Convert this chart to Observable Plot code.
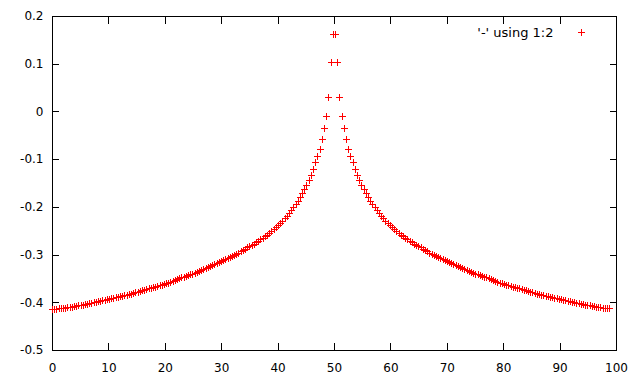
<!DOCTYPE html>
<html>
<head>
<meta charset="utf-8">
<script src="https://cdn.jsdelivr.net/npm/d3@7"></script>
<script src="https://cdn.jsdelivr.net/npm/@observablehq/plot@0.6"></script>
<style>
  html, body { margin: 0; padding: 0; background: #fff; }
  #chart svg { shape-rendering: crispEdges; }
</style>
</head>
<body>
<div id="chart"></div>
<script>
// Sample positions: regular grid starting at 0
const xStart = 0;
const xStep = 0.389;

// Series values (left to right)
const yValues = [
  -0.415,-0.414,-0.414,-0.413,-0.412,-0.412,-0.411,-0.410,-0.410,-0.409,
  -0.408,-0.407,-0.406,-0.405,-0.405,-0.404,-0.403,-0.402,-0.401,-0.400,
  -0.399,-0.398,-0.397,-0.396,-0.395,-0.394,-0.393,-0.392,-0.390,-0.389,
  -0.388,-0.387,-0.386,-0.385,-0.384,-0.383,-0.382,-0.380,-0.379,-0.378,
  -0.377,-0.375,-0.374,-0.373,-0.371,-0.370,-0.369,-0.367,-0.366,-0.364,
  -0.363,-0.362,-0.360,-0.359,-0.357,-0.355,-0.354,-0.352,-0.350,-0.348,
  -0.347,-0.345,-0.343,-0.341,-0.340,-0.338,-0.336,-0.334,-0.332,-0.330,
  -0.328,-0.326,-0.324,-0.322,-0.320,-0.318,-0.316,-0.314,-0.312,-0.310,
  -0.307,-0.305,-0.303,-0.300,-0.298,-0.296,-0.293,-0.291,-0.288,-0.285,
  -0.283,-0.280,-0.277,-0.274,-0.271,-0.268,-0.265,-0.261,-0.258,-0.254,
  -0.250,-0.247,-0.242,-0.238,-0.234,-0.229,-0.224,-0.219,-0.213,-0.207,
  -0.201,-0.195,-0.188,-0.180,-0.172,-0.163,-0.154,-0.143,-0.133,-0.121,
  -0.107,-0.093,-0.078,-0.058,-0.034,-0.009,0.031,0.104,0.162,
  0.162,0.104,0.031,-0.009,-0.034,-0.058,-0.078,-0.093,-0.107,-0.121,
  -0.133,-0.143,-0.154,-0.163,-0.172,-0.180,-0.188,-0.195,-0.201,-0.207,
  -0.213,-0.219,-0.224,-0.229,-0.234,-0.238,-0.242,-0.247,-0.250,-0.254,
  -0.258,-0.261,-0.265,-0.268,-0.271,-0.274,-0.277,-0.280,-0.283,-0.285,
  -0.288,-0.291,-0.293,-0.296,-0.298,-0.300,-0.303,-0.305,-0.307,-0.310,
  -0.312,-0.314,-0.316,-0.318,-0.320,-0.322,-0.324,-0.326,-0.328,-0.330,
  -0.332,-0.334,-0.336,-0.338,-0.340,-0.341,-0.343,-0.345,-0.347,-0.348,
  -0.350,-0.352,-0.354,-0.355,-0.357,-0.359,-0.360,-0.362,-0.363,-0.364,
  -0.366,-0.367,-0.369,-0.370,-0.371,-0.373,-0.374,-0.375,-0.377,-0.378,
  -0.379,-0.380,-0.382,-0.383,-0.384,-0.385,-0.386,-0.387,-0.388,-0.389,
  -0.390,-0.392,-0.393,-0.394,-0.395,-0.396,-0.397,-0.398,-0.399,-0.400,
  -0.401,-0.402,-0.403,-0.404,-0.405,-0.405,-0.406,-0.407,-0.408,-0.409,
  -0.410,-0.410,-0.411,-0.412,-0.412,-0.413
];

const xTicks = [0, 10, 20, 30, 40, 50, 60, 70, 80, 90, 100];
const yTicks = [-0.5, -0.4, -0.3, -0.2, -0.1, 0, 0.1, 0.2];
const legendLabels = ["'-' using 1:2"];

const points = yValues.map((y, i) => ({x: xStart + i * xStep, y}));

const plusSymbol = {
  draw(ctx, size) {
    const r = Math.sqrt(size / Math.PI);
    ctx.moveTo(-r, 0); ctx.lineTo(r, 0);
    ctx.moveTo(0, -r); ctx.lineTo(0, r);
  }
};

const fmt = d => String(+d.toFixed(1));

const chart = Plot.plot({
  width: 640,
  height: 384,
  marginLeft: 52,
  marginRight: 24,
  marginTop: 16,
  marginBottom: 34,
  style: {fontFamily: "DejaVu Sans", fontSize: "12px", background: "#fff", color: "#000"},
  x: {domain: [0, 100], label: null},
  y: {domain: [-0.5, 0.2], label: null},
  marks: [
    Plot.frame({stroke: "#000", strokeWidth: 1}),
    Plot.axisX({ticks: xTicks, anchor: "bottom", tickSize: -7, tickPadding: 20, tickFormat: fmt, label: null, fontSize: 12}),
    Plot.axisX({ticks: xTicks, anchor: "top", tickSize: -7, tickFormat: () => "", label: null}),
    Plot.axisY({ticks: yTicks, anchor: "left", tickSize: -7, tickPadding: 16, tickFormat: fmt, label: null, fontSize: 12}),
    Plot.axisY({ticks: yTicks, anchor: "right", tickSize: -7, tickFormat: () => "", label: null}),
    Plot.dot(points, {x: "x", y: "y", symbol: plusSymbol, r: 3.5, stroke: "#ff0000", fill: "none", strokeWidth: 1}),
    Plot.text(legendLabels, {text: d => d, frameAnchor: "top-right", dx: -63, dy: 16, textAnchor: "end", lineAnchor: "middle", fontSize: 13, fill: "#000"}),
    Plot.dot(legendLabels, {frameAnchor: "top-right", dx: -35, dy: 16, symbol: plusSymbol, r: 3.5, stroke: "#ff0000", fill: "none", strokeWidth: 1})
  ]
});

document.getElementById("chart").appendChild(chart);
</script>
</body>
</html>
